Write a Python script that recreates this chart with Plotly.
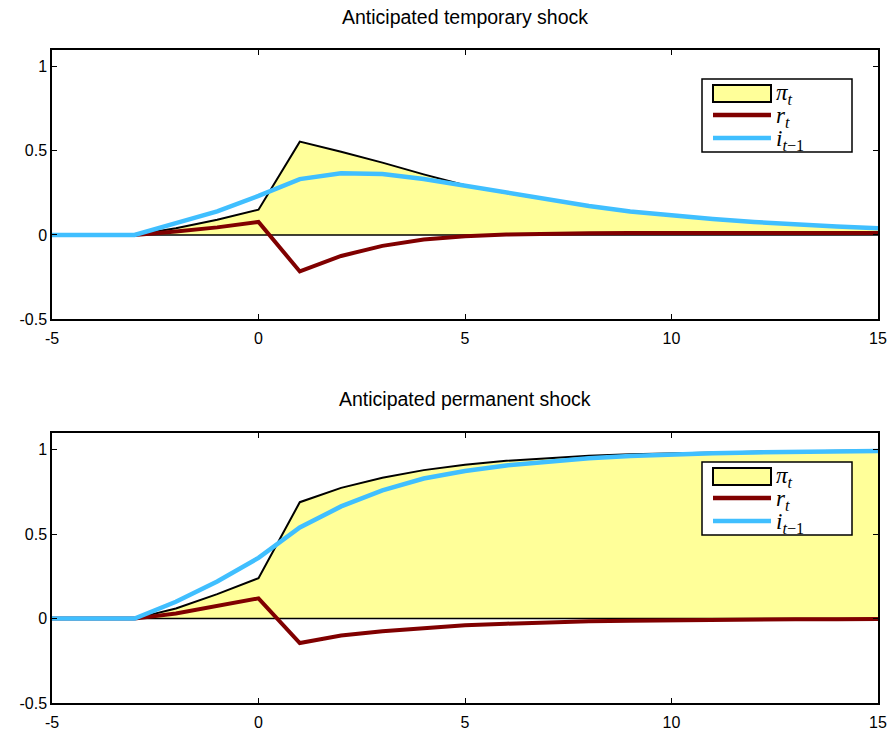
import plotly.graph_objects as go

T = list(range(-5, 16))

# Anticipated temporary shock
pi_temp = [0, 0, 0, 0.04, 0.09, 0.15, 0.555, 0.495, 0.43, 0.36, 0.295, 0.25, 0.21, 0.17, 0.14, 0.115, 0.095, 0.077, 0.062, 0.05, 0.04]
r_temp = [0, 0, 0, 0.02, 0.045, 0.077, -0.217, -0.125, -0.065, -0.027, -0.008, 0.003, 0.008, 0.01, 0.011, 0.011, 0.011, 0.011, 0.011, 0.011, 0.011]
i_temp = [0, 0, 0, 0.07, 0.14, 0.232, 0.332, 0.367, 0.362, 0.333, 0.292, 0.25, 0.21, 0.172, 0.14, 0.115, 0.095, 0.077, 0.062, 0.05, 0.04]

# Anticipated permanent shock
pi_perm = [0, 0, 0, 0.06, 0.145, 0.24, 0.69, 0.775, 0.835, 0.88, 0.912, 0.935, 0.952, 0.965, 0.974, 0.98, 0.985, 0.989, 0.992, 0.994, 0.996]
r_perm = [0, 0, 0, 0.03, 0.072, 0.12, -0.145, -0.1, -0.075, -0.055, -0.04, -0.03, -0.022, -0.016, -0.012, -0.009, -0.007, -0.005, -0.004, -0.003, -0.002]
i_perm = [0, 0, 0, 0.1, 0.22, 0.36, 0.54, 0.665, 0.76, 0.83, 0.875, 0.908, 0.932, 0.95, 0.963, 0.973, 0.98, 0.985, 0.988, 0.991, 0.993]

titles = ["Anticipated temporary shock", "Anticipated permanent shock"]
legend_labels = ["<i>π</i><sub><i>t</i></sub>", "<i>r</i><sub><i>t</i></sub>", "<i>i</i><sub><i>t</i>−1</sub>"]
xticks = [-5, 0, 5, 10, 15]
xticktext = ["-5", "0", "5", "10", "15"]
yticks = [-0.5, 0, 0.5, 1]
yticktext = ["-0.5", "0", "0.5", "1"]

YELLOW = "#FFFF99"
RED = "#800000"
BLUE = "#40BFFF"

W, H = 892, 736
ML, MR, MT, MB = 52, 14, 50, 33
PW, PH = W - ML - MR, H - MT - MB


def px(xp):
    return (xp - ML) / PW


def py(yp):
    return 1 - (yp - MT) / PH


fig = go.Figure()

series = [(pi_temp, r_temp, i_temp), (pi_perm, r_perm, i_perm)]

for k, (pi, r, i) in enumerate(series):
    xa = "x" if k == 0 else "x2"
    ya = "y" if k == 0 else "y2"
    fig.add_trace(go.Scatter(x=T, y=pi, mode="lines", fill="tozeroy", fillcolor=YELLOW,
                             line=dict(color="black", width=2), name="pi",
                             xaxis=xa, yaxis=ya))
    fig.add_trace(go.Scatter(x=T, y=[0] * len(T), mode="lines", line=dict(color="black", width=1.5),
                             hoverinfo="skip", xaxis=xa, yaxis=ya))
    fig.add_trace(go.Scatter(x=T, y=r, mode="lines", line=dict(color=RED, width=4), name="r",
                             xaxis=xa, yaxis=ya))
    fig.add_trace(go.Scatter(x=T, y=i, mode="lines", line=dict(color=BLUE, width=4.5), name="i",
                             xaxis=xa, yaxis=ya))

tickfont = dict(family="Liberation Sans, Arial, sans-serif", size=16, color="black")
axis_common = dict(showline=True, linecolor="black", linewidth=1.5, mirror="ticks",
                   ticks="inside", ticklen=5, tickwidth=1, tickcolor="black",
                   showgrid=False, zeroline=False, automargin=False, tickfont=tickfont)

top_dom = [py(319), 1.0]
bot_dom = [0.0, py(433)]

# custom legends (drawn in paper coordinates)
shapes = []
annotations = []
for k in range(2):
    off = 0 if k == 0 else 383
    shapes.append(dict(type="rect", xref="paper", yref="paper",
                       x0=px(702), x1=px(852), y0=py(79 + off), y1=py(152 + off),
                       line=dict(color="black", width=1.5), fillcolor="white", layer="above"))
    shapes.append(dict(type="rect", xref="paper", yref="paper",
                       x0=px(713), x1=px(771), y0=py(85 + off), y1=py(102 + off),
                       line=dict(color="black", width=2), fillcolor=YELLOW, layer="above"))
    shapes.append(dict(type="line", xref="paper", yref="paper",
                       x0=px(713), x1=px(771), y0=py(115 + off), y1=py(115 + off),
                       line=dict(color=RED, width=4.5), layer="above"))
    shapes.append(dict(type="line", xref="paper", yref="paper",
                       x0=px(713), x1=px(771), y0=py(138 + off), y1=py(138 + off),
                       line=dict(color=BLUE, width=4.5), layer="above"))
    for j, ycen in enumerate([94, 117, 140]):
        annotations.append(dict(text=legend_labels[j], x=px(775), y=py(ycen + off),
                                xref="paper", yref="paper", showarrow=False,
                                xanchor="left", yanchor="middle", borderpad=0,
                                font=dict(family="Liberation Serif, Times New Roman, serif",
                                          size=23, color="black")))

titlefont = dict(family="Liberation Sans, Arial, sans-serif", size=19.5, color="black")
annotations.append(dict(text=titles[0], x=0.5, y=py(17), xref="paper", yref="paper", showarrow=False,
                        xanchor="center", yanchor="middle", font=titlefont))
annotations.append(dict(text=titles[1], x=0.5, y=py(399), xref="paper", yref="paper", showarrow=False,
                        xanchor="center", yanchor="middle", font=titlefont))

xaxis_extra = dict(ticklabelstandoff=4)

fig.update_layout(
    width=W, height=H,
    margin=dict(l=ML, r=MR, t=MT, b=MB, autoexpand=False),
    plot_bgcolor="white", paper_bgcolor="white",
    showlegend=False,
    xaxis=dict(domain=[0, 1], range=[-5, 15], tickvals=xticks, ticktext=xticktext, anchor="y", **axis_common, **xaxis_extra),
    yaxis=dict(domain=top_dom, range=[-0.5, 1.1], tickvals=yticks, ticktext=yticktext, anchor="x", **axis_common),
    xaxis2=dict(domain=[0, 1], range=[-5, 15], tickvals=xticks, ticktext=xticktext, anchor="y2", **axis_common, **xaxis_extra),
    yaxis2=dict(domain=bot_dom, range=[-0.5, 1.1], tickvals=yticks, ticktext=yticktext, anchor="x2", **axis_common),
    shapes=shapes,
    annotations=annotations,
)

fig.write_html("out.html")
